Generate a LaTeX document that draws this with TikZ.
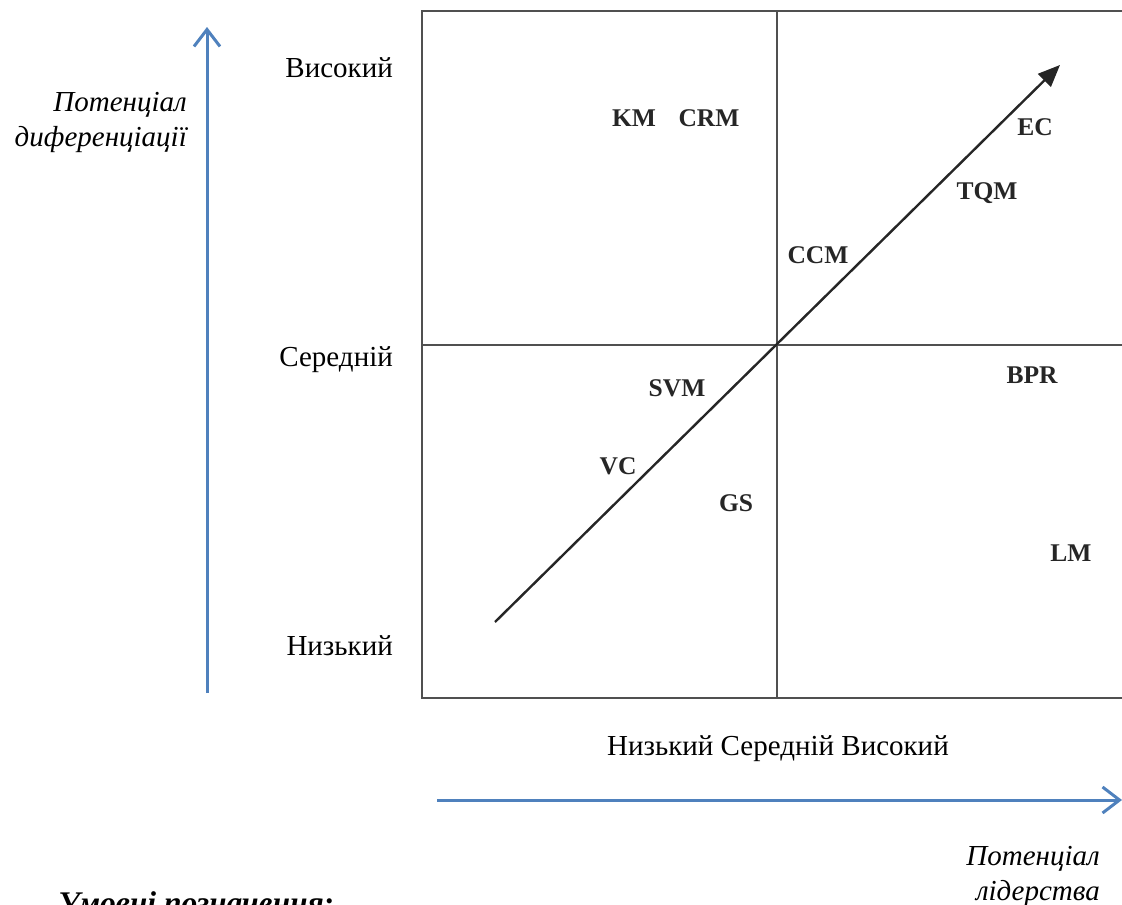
\documentclass[tikz,border=0pt]{standalone}
\usepackage{fontspec}
\setmainfont{Liberation Serif}
\usetikzlibrary{arrows.meta}
\definecolor{axisblue}{HTML}{4F81BD}
\definecolor{gridgray}{HTML}{505050}
\begin{document}
\begin{tikzpicture}[x=1pt,y=-1pt,
  gridline/.style={draw=gridgray, line width=1.6pt},
  lvl/.style={font=\fontsize{29}{34}\selectfont, inner sep=0pt},
  tag/.style={font=\fontsize{25.5}{30}\selectfont\bfseries, inner sep=0pt, text=black!85},
  axisarrow/.style={draw=axisblue, line width=3pt, -{Straight Barb[length=17pt,width=26pt,line width=3pt]}},
  axtitle/.style={font=\fontsize{29}{35}\selectfont\itshape, align=right, inner sep=0pt},
  trend/.style={draw=black!85, line width=2.4pt, -{Triangle[length=22pt,width=18pt]}}]
\clip (0,0) rectangle (1122,905);
% matrix box
\draw[gridline] (1130,11) -- (422,11) -- (422,698) -- (1130,698);
\draw[gridline] (777,11) -- (777,698);
\draw[gridline] (422,345) -- (1130,345);
% trend arrow
\coordinate (ts) at (495,622);
\coordinate (te) at (1060,65);
\draw[trend] (ts) -- (te);
% axes
\coordinate (vs) at (207,693);
\coordinate (ve) at (207,27);
\draw[axisarrow] (vs) -- (ve);
\coordinate (hs) at (437,800);
\coordinate (he) at (1122,800);
\draw[axisarrow] (hs) -- (he);
% level labels
\node[lvl, anchor=base east] (hi) at (393,77) {Високий};
\node[lvl, anchor=base east] (mid) at (393,366) {Середній};
\node[lvl, anchor=base east] (lo) at (393,655) {Низький};
\node[lvl, anchor=base] (xlev) at (778,755) {Низький Середній Високий};
% axis titles
\node[axtitle, anchor=base east] (ytitle) at (187,146) {Потенціал\\диференціації};
\node[axtitle, anchor=base east] (xtitle) at (1100,900) {Потенціал\\лідерства};
% tags
\node[tag] (km) at (634,118) {KM};
\node[tag] (crm) at (709,118) {CRM};
\node[tag] (ec) at (1035,127) {EC};
\node[tag] (tqm) at (987,193) {TQM};
\node[tag] (ccm) at (818,255) {CCM};
\node[tag] (bpr) at (1032,375) {BPR};
\node[tag] (svm) at (677,388) {SVM};
\node[tag] (vc) at (618,466) {VC};
\node[tag] (gs) at (736,503) {GS};
\node[tag] (lm) at (1071,553) {LM};
% legend heading
\node[font=\fontsize{31.5}{36}\selectfont\bfseries\itshape, anchor=base west, inner sep=0pt] (legend) at (58,913) {Умовні позначення:};
\end{tikzpicture}
\end{document}
